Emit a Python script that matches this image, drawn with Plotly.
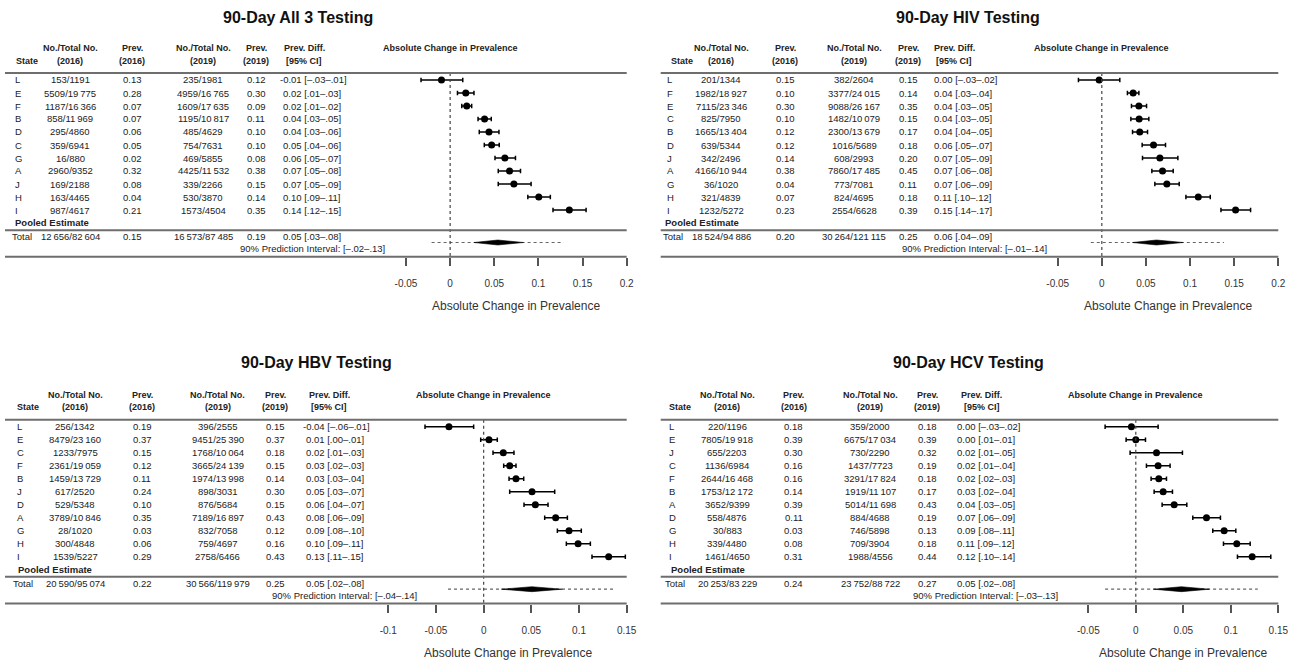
import plotly.graph_objects as go

W, H = 1295, 661
FONT = "Liberation Sans, Arial, Helvetica, sans-serif"
TXT = "#222222"
LINE = "#6e6e6e"

# ---------------- data: 90-Day All 3 Testing ----------------
ALL3_STATES = ["L", "E", "F", "B", "D", "C", "G", "A", "J", "H", "I"]
ALL3_N16 = [153, 5509, 1187, 858, 295, 359, 16, 2960, 169, 163, 987]
ALL3_T16 = [1191, 19775, 16366, 11969, 4860, 6941, 880, 9352, 2188, 4465, 4617]
ALL3_P16 = [0.13, 0.28, 0.07, 0.07, 0.06, 0.05, 0.02, 0.32, 0.08, 0.04, 0.21]
ALL3_N19 = [235, 4959, 1609, 1195, 485, 754, 469, 4425, 339, 530, 1573]
ALL3_T19 = [1981, 16765, 17635, 10817, 4629, 7631, 5855, 11532, 2266, 3870, 4504]
ALL3_P19 = [0.12, 0.30, 0.09, 0.11, 0.10, 0.10, 0.08, 0.38, 0.15, 0.14, 0.35]
ALL3_DIFF = ["-0.01 [–.03–.01]", "0.02 [.01–.03]", "0.02 [.01–.02]", "0.04 [.03–.05]",
             "0.04 [.03–.06]", "0.05 [.04–.06]", "0.06 [.05–.07]", "0.07 [.05–.08]",
             "0.07 [.05–.09]", "0.10 [.09–.11]", "0.14 [.12–.15]"]
ALL3_TOTAL = [12656, 82604, 0.15, 16573, 87485, 0.19]
ALL3_TOTAL_DIFF = "0.05 [.03–.08]"
ALL3_PI_TEXT = "[–.02–.13]"
ALL3_EST = [-0.0098, 0.0177, 0.0188, 0.039, 0.044, 0.047, 0.062, 0.0673, 0.0722, 0.1004, 0.135]
ALL3_LO = [-0.033, 0.0083, 0.0132, 0.0316, 0.033, 0.0387, 0.0508, 0.0545, 0.0545, 0.088, 0.1165]
ALL3_HI = [0.0143, 0.027, 0.0244, 0.0466, 0.0553, 0.0556, 0.074, 0.0797, 0.0917, 0.1135, 0.154]
ALL3_POOL = [0.054, 0.027, 0.083]
ALL3_PI = [-0.021, 0.1286]

# ---------------- data: 90-Day HIV Testing ----------------
HIV_STATES = ["L", "F", "E", "C", "B", "D", "J", "A", "G", "H", "I"]
HIV_N16 = [201, 1982, 7115, 825, 1665, 639, 342, 4166, 36, 321, 1232]
HIV_T16 = [1344, 18927, 23346, 7950, 13404, 5344, 2496, 10944, 1020, 4839, 5272]
HIV_P16 = [0.15, 0.10, 0.30, 0.10, 0.12, 0.12, 0.14, 0.38, 0.04, 0.07, 0.23]
HIV_N19 = [382, 3377, 9088, 1482, 2300, 1016, 608, 7860, 773, 824, 2554]
HIV_T19 = [2604, 24015, 26167, 10079, 13679, 5689, 2993, 17485, 7081, 4695, 6628]
HIV_P19 = [0.15, 0.14, 0.35, 0.15, 0.17, 0.18, 0.20, 0.45, 0.11, 0.18, 0.39]
HIV_DIFF = ["0.00 [–.03–.02]", "0.04 [.03–.04]", "0.04 [.03–.05]", "0.04 [.03–.05]",
            "0.04 [.04–.05]", "0.06 [.05–.07]", "0.07 [.05–.09]", "0.07 [.06–.08]",
            "0.07 [.06–.09]", "0.11 [.10–.12]", "0.15 [.14–.17]"]
HIV_TOTAL = [18524, 94886, 0.20, 30264, 121115, 0.25]
HIV_TOTAL_DIFF = "0.06 [.04–.09]"
HIV_PI_TEXT = "[–.01–.14]"
HIV_EST = [-0.003, 0.0355, 0.042, 0.0423, 0.043, 0.0586, 0.0658, 0.0688, 0.0737, 0.1093, 0.1516]
HIV_LO = [-0.0265, 0.029, 0.0336, 0.0329, 0.0348, 0.0457, 0.0461, 0.0567, 0.0601, 0.0953, 0.135]
HIV_HI = [0.0204, 0.042, 0.0507, 0.0533, 0.0518, 0.0722, 0.0862, 0.0809, 0.0877, 0.1229, 0.1686]
HIV_POOL = [0.062, 0.0348, 0.0922]
HIV_PI = [-0.0125, 0.1384]

# ---------------- data: 90-Day HBV Testing ----------------
HBV_STATES = ["L", "E", "C", "F", "B", "J", "D", "A", "G", "H", "I"]
HBV_N16 = [256, 8479, 1233, 2361, 1459, 617, 529, 3789, 28, 300, 1539]
HBV_T16 = [1342, 23160, 7975, 19059, 13729, 2520, 5348, 10846, 1020, 4848, 5227]
HBV_P16 = [0.19, 0.37, 0.15, 0.12, 0.11, 0.24, 0.10, 0.35, 0.03, 0.06, 0.29]
HBV_N19 = [396, 9451, 1768, 3665, 1974, 898, 876, 7189, 832, 759, 2758]
HBV_T19 = [2555, 25390, 10064, 24139, 13998, 3031, 5684, 16897, 7058, 4697, 6466]
HBV_P19 = [0.15, 0.37, 0.18, 0.15, 0.14, 0.30, 0.15, 0.43, 0.12, 0.16, 0.43]
HBV_DIFF = ["-0.04 [–.06–.01]", "0.01 [.00–.01]", "0.02 [.01–.03]", "0.03 [.02–.03]",
            "0.03 [.03–.04]", "0.05 [.03–.07]", "0.06 [.04–.07]", "0.08 [.06–.09]",
            "0.09 [.08–.10]", "0.10 [.09–.11]", "0.13 [.11–.15]"]
HBV_TOTAL = [20590, 95074, 0.22, 30566, 119979, 0.25]
HBV_TOTAL_DIFF = "0.05 [.02–.08]"
HBV_PI_TEXT = "[–.04–.14]"
HBV_EST = [-0.0364, 0.0056, 0.0206, 0.0273, 0.0339, 0.0507, 0.0542, 0.0755, 0.0895, 0.099, 0.1311]
HBV_LO = [-0.0615, -0.0031, 0.0098, 0.021, 0.0266, 0.0273, 0.0423, 0.064, 0.0773, 0.0867, 0.1136]
HBV_HI = [-0.0105, 0.0143, 0.0318, 0.0339, 0.042, 0.0745, 0.0675, 0.0878, 0.1024, 0.1119, 0.1486]
HBV_POOL = [0.0505, 0.0185, 0.0825]
HBV_PI = [-0.0374, 0.1385]

# ---------------- data: 90-Day HCV Testing ----------------
HCV_STATES = ["L", "E", "J", "C", "F", "B", "A", "D", "G", "H", "I"]
HCV_N16 = [220, 7805, 655, 1136, 2644, 1753, 3652, 558, 30, 339, 1461]
HCV_T16 = [1196, 19918, 2203, 6984, 16468, 12172, 9399, 4876, 883, 4480, 4650]
HCV_P16 = [0.18, 0.39, 0.30, 0.16, 0.16, 0.14, 0.39, 0.11, 0.03, 0.08, 0.31]
HCV_N19 = [359, 6675, 730, 1437, 3291, 1919, 5014, 884, 746, 709, 1988]
HCV_T19 = [2000, 17034, 2290, 7723, 17824, 11107, 11698, 4688, 5898, 3904, 4556]
HCV_P19 = [0.18, 0.39, 0.32, 0.19, 0.18, 0.17, 0.43, 0.19, 0.13, 0.18, 0.44]
HCV_DIFF = ["0.00 [–.03–.02]", "0.00 [.01–.01]", "0.02 [.01–.05]", "0.02 [.01–.04]",
            "0.02 [.02–.03]", "0.03 [.02–.04]", "0.04 [.03–.05]", "0.07 [.06–.09]",
            "0.09 [.08–.11]", "0.11 [.09–.12]", "0.12 [.10–.14]"]
HCV_TOTAL = [20253, 83229, 0.24, 23752, 88722, 0.27]
HCV_TOTAL_DIFF = "0.05 [.02–.08]"
HCV_PI_TEXT = "[–.03–.13]"
HCV_EST = [-0.0046, 0.0, 0.0218, 0.0235, 0.0242, 0.0288, 0.0404, 0.0744, 0.093, 0.1063, 0.1225]
HCV_LO = [-0.0323, -0.0102, -0.006, 0.0112, 0.0161, 0.0193, 0.0277, 0.06, 0.081, 0.0923, 0.107]
HCV_HI = [0.0235, 0.0102, 0.0491, 0.0361, 0.0323, 0.0386, 0.0537, 0.0891, 0.1053, 0.1204, 0.1421]
HCV_POOL = [0.048, 0.0186, 0.0775]
HCV_PI = [-0.0323, 0.1284]

TITLES = ["90-Day All 3 Testing", "90-Day HIV Testing", "90-Day HBV Testing", "90-Day HCV Testing"]
TICKS_TOP = [-0.05, 0, 0.05, 0.1, 0.15, 0.2]
TICKS_HBV = [-0.1, -0.05, 0, 0.05, 0.1, 0.15]
TICKS_HCV = [-0.05, 0, 0.05, 0.1, 0.15]
XRANGES = [[-0.05, 0.2], [-0.05, 0.2], [-0.1, 0.15], [-0.05, 0.15]]

# ---------------- layout geometry (pixels) ----------------
GEOM = [
    dict(row0=80, title_y=17.5, title_cx=297.5, lx0=5, lx1=626.7, ax0=406, ax1=626.7,
         st=15, st_h=27, c1=70, c2=132, c3=203, c4=256, c5h=304, c5=283, pool=15, tot=11.7, pi=240),
    dict(row0=80, title_y=17.5, title_cx=968, lx0=660.7, lx1=1278.3, ax0=1057.7, ax1=1278.3,
         st=666.5, st_h=682.5, c1=721, c2=785, c3=854, c4=908, c5h=954, c5=933.5, pool=665, tot=663.3, pi=901.7),
    dict(row0=426.7, title_y=362.5, title_cx=316, lx0=5, lx1=626.7, ax0=388.3, ax1=626.7,
         st=16.7, st_h=28.3, c1=75, c2=142, c3=217.5, c4=275, c5h=329, c5=306, pool=18.3, tot=12.7, pi=271.7),
    dict(row0=426.7, title_y=362.5, title_cx=968, lx0=660.7, lx1=1278.3, ax0=1088.3, ax1=1278.3,
         st=669.3, st_h=680, c1=727, c2=793.5, c3=870, c4=927, c5h=981.7, c5=956.7, pool=670.7, tot=665, pi=913.3),
]
STEP = 13.0
R_TOP, R_LINE, R_TOTAL, R_DIAM, R_PI, R_AXIS = -0.53, 11.55, 12.05, 12.5, 12.95, 13.6
R_H1, R_H2, R_TITLE_AX = -2.47, -1.48, 17.37

PANELS = [
    (ALL3_STATES, ALL3_N16, ALL3_T16, ALL3_P16, ALL3_N19, ALL3_T19, ALL3_P19, ALL3_DIFF,
     ALL3_TOTAL, ALL3_TOTAL_DIFF, ALL3_PI_TEXT, ALL3_EST, ALL3_LO, ALL3_HI, ALL3_POOL, ALL3_PI, TICKS_TOP),
    (HIV_STATES, HIV_N16, HIV_T16, HIV_P16, HIV_N19, HIV_T19, HIV_P19, HIV_DIFF,
     HIV_TOTAL, HIV_TOTAL_DIFF, HIV_PI_TEXT, HIV_EST, HIV_LO, HIV_HI, HIV_POOL, HIV_PI, TICKS_TOP),
    (HBV_STATES, HBV_N16, HBV_T16, HBV_P16, HBV_N19, HBV_T19, HBV_P19, HBV_DIFF,
     HBV_TOTAL, HBV_TOTAL_DIFF, HBV_PI_TEXT, HBV_EST, HBV_LO, HBV_HI, HBV_POOL, HBV_PI, TICKS_HBV),
    (HCV_STATES, HCV_N16, HCV_T16, HCV_P16, HCV_N19, HCV_T19, HCV_P19, HCV_DIFF,
     HCV_TOTAL, HCV_TOTAL_DIFF, HCV_PI_TEXT, HCV_EST, HCV_LO, HCV_HI, HCV_POOL, HCV_PI, TICKS_HCV),
]


def thin(n):
    s = str(n)
    if n >= 10000:
        s = s[:-3] + "\u2009" + s[-3:]
    return s


def frac(a, b):
    return thin(a) + "/" + thin(b)


def tick_label(v):
    return "%g" % v


fig = go.Figure()
annotations = []
shapes = []
layout_axes = {}


def ann(text, xpx, ypx, size=9.5, bold=False, anchor="center", color=TXT, xref="paper", x=None):
    annotations.append(dict(
        text=("<b>%s</b>" % text) if bold else text,
        x=(xpx / W) if x is None else x, xref=xref,
        y=1 - ypx / H, yref="paper",
        xanchor=anchor, yanchor="middle", showarrow=False,
        borderpad=0, borderwidth=0,
        font=dict(family=FONT, size=size, color=color)))


for i, (g, p) in enumerate(zip(GEOM, PANELS)):
    (states, n16, t16, p16, n19, t19, p19, diff, total, total_diff, pi_text,
     est, lo, hi, pool, pi, ticks) = p
    k = "" if i == 0 else str(i + 1)
    xa, ya = "x" + k, "y" + k
    row_px = lambda r, g=g: g["row0"] + STEP * r

    layout_axes["xaxis" + k] = dict(
        domain=[g["ax0"] / W, g["ax1"] / W], range=XRANGES[i], anchor=ya,
        tickvals=ticks, ticktext=[tick_label(t) for t in ticks],
        ticks="outside", ticklen=8, tickwidth=1.5, tickcolor="#555555",
        showline=False, showgrid=False, zeroline=False, automargin=False,
        tickfont=dict(family=FONT, size=10, color="#333333"), ticklabelstandoff=9,
        fixedrange=True)
    layout_axes["yaxis" + k] = dict(
        domain=[1 - row_px(R_AXIS) / H, 1 - row_px(R_TOP) / H],
        range=[R_AXIS, R_TOP], anchor=xa, visible=False, automargin=False,
        showgrid=False, zeroline=False, fixedrange=True)

    rows = list(range(len(states)))

    # prediction interval (dotted)
    fig.add_trace(go.Scatter(
        x=pi, y=[R_DIAM, R_DIAM], xaxis=xa, yaxis=ya, mode="lines",
        line=dict(color="#666666", width=1.2, dash="dot"), hoverinfo="skip"))
    # pooled diamond
    e, l, h = pool
    dh = 0.19
    fig.add_trace(go.Scatter(
        x=[l, e, h, e, l], y=[R_DIAM, R_DIAM - dh, R_DIAM, R_DIAM + dh, R_DIAM],
        xaxis=xa, yaxis=ya, mode="lines", fill="toself", fillcolor="#000000",
        line=dict(color="#000000", width=0.6), hoverinfo="skip"))
    # state estimates with 95% CI
    fig.add_trace(go.Scatter(
        x=est, y=rows, xaxis=xa, yaxis=ya, mode="markers",
        marker=dict(color="#000000", size=7),
        error_x=dict(type="data", symmetric=False,
                     array=[b - a for a, b in zip(est, hi)],
                     arrayminus=[a - b for a, b in zip(est, lo)],
                     color="#000000", thickness=1.5, width=2.2),
        hoverinfo="skip"))

    shapes.append(dict(type="line", xref=xa, yref="paper", x0=0, x1=0,
                       y0=1 - row_px(R_TOP) / H, y1=1 - row_px(R_AXIS) / H,
                       line=dict(color="#444444", width=1.2, dash="dot")))
    for r in (R_TOP, R_LINE, R_AXIS):
        shapes.append(dict(type="line", xref="paper", yref="paper",
                           x0=g["lx0"] / W, x1=g["lx1"] / W,
                           y0=1 - row_px(r) / H, y1=1 - row_px(r) / H,
                           line=dict(color=LINE, width=2)))

    ann(TITLES[i], g["title_cx"], g["title_y"], size=16, bold=True, color="#111111")
    ann("Absolute Change in Prevalence", 0, row_px(R_H1), size=9, bold=True, xref=xa, x=0)
    ann("Absolute Change in Prevalence", (g["ax0"] + g["ax1"]) / 2, row_px(R_TITLE_AX), size=12,
        color="#333333")

    ann("State", g["st_h"], row_px(R_H2), size=9, bold=True)
    ann("No./Total No.", g["c1"], row_px(R_H1), size=9, bold=True)
    ann("(2016)", g["c1"], row_px(R_H2), size=9, bold=True)
    ann("Prev.", g["c2"], row_px(R_H1), size=9, bold=True)
    ann("(2016)", g["c2"], row_px(R_H2), size=9, bold=True)
    ann("No./Total No.", g["c3"], row_px(R_H1), size=9, bold=True)
    ann("(2019)", g["c3"], row_px(R_H2), size=9, bold=True)
    ann("Prev.", g["c4"], row_px(R_H1), size=9, bold=True)
    ann("(2019)", g["c4"], row_px(R_H2), size=9, bold=True)
    ann("Prev. Diff.", g["c5h"], row_px(R_H1), size=9, bold=True)
    ann("[95% CI]", g["c5h"], row_px(R_H2), size=9, bold=True)

    for r in rows:
        y = row_px(r)
        ann(states[r], g["st"], y, anchor="left")
        ann(frac(n16[r], t16[r]), g["c1"], y)
        ann("%.2f" % p16[r], g["c2"], y)
        ann(frac(n19[r], t19[r]), g["c3"], y)
        ann("%.2f" % p19[r], g["c4"], y)
        d = diff[r]
        ann(d, g["c5"] - (3.2 if d.startswith("-") else 0), y, anchor="left")

    ann("Pooled Estimate", g["pool"], row_px(len(states)), size=9.5, bold=True, anchor="left")
    yt = row_px(R_TOTAL)
    ann("Total", g["tot"], yt, anchor="left")
    ann(frac(total[0], total[1]), g["c1"], yt)
    ann("%.2f" % total[2], g["c2"], yt)
    ann(frac(total[3], total[4]), g["c3"], yt)
    ann("%.2f" % total[5], g["c4"], yt)
    ann(total_diff, g["c5"], yt, anchor="left")
    ann("90% Prediction Interval: " + pi_text, g["pi"], row_px(R_PI), anchor="left")

fig.update_layout(
    template="none",
    width=W, height=H, autosize=False,
    margin=dict(l=0, r=0, t=0, b=0, pad=0, autoexpand=False),
    paper_bgcolor="white", plot_bgcolor="rgba(0,0,0,0)",
    showlegend=False, annotations=annotations, shapes=shapes,
    **layout_axes)

fig.write_html(
    "out.html",
    config={"responsive": False, "displayModeBar": False},
    post_script="document.body.style.margin='0';document.body.style.padding='0';"
                "document.documentElement.style.overflow='hidden';document.body.style.overflow='hidden';")
